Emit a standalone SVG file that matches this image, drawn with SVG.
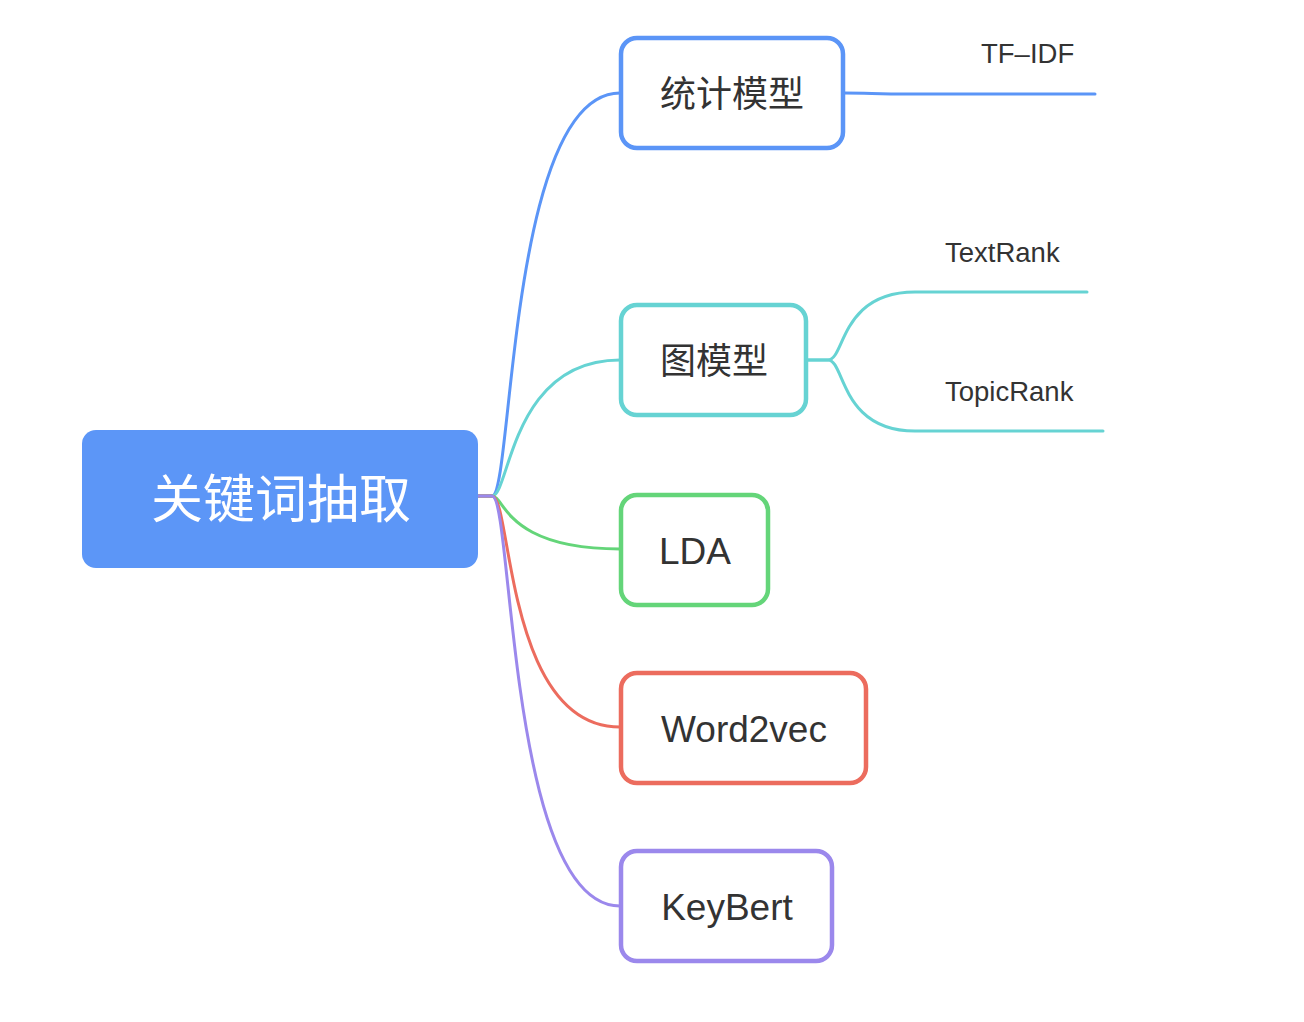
<svg xmlns="http://www.w3.org/2000/svg" width="1304" height="1022" viewBox="0 0 1304 1022">
<style>
.lbl{font-family:"Liberation Sans","Noto Sans CJK SC",sans-serif;fill:#333333;}
.cn{font-family:"Noto Sans CJK SC",sans-serif;}
.node{fill:#ffffff;stroke-width:4.5;}
.c{fill:none;stroke-width:3;stroke-linecap:round;}
.sm{font-size:27.5px;}
.md{font-size:37px;}
</style>
<rect width="1304" height="1022" fill="#ffffff"/>
<g id="connectors">
<path class="c" stroke="#5B95F7" d="M478,496 H492 C513,496 508,93 620,93"/>
<path class="c" stroke="#66D3D3" d="M478,496 H492 C510,496 510,360 620,360"/>
<path class="c" stroke="#64D579" d="M478,496 H492 C505,496 505,549 620,549"/>
<path class="c" stroke="#EC6C5E" d="M478,496 H492 C512,496 505,727 620,727"/>
<path class="c" stroke="#9B88EC" d="M478,496 H492 C513,496 508,906 620,906"/>
<path class="c" stroke="#5B95F7" d="M844,93 C870,93 875,94 910,94 H1095"/>
<path class="c" stroke="#66D3D3" d="M807,360 H828 C845,360 840,292 915,292 H1087"/>
<path class="c" stroke="#66D3D3" d="M807,360 H828 C845,360 840,431 915,431 H1103"/>
</g>
<g id="root">
<rect x="82" y="430" width="396" height="138" rx="14" fill="#5C96F7"/>
<text class="cn" x="281" y="518" font-size="52" fill="#ffffff" text-anchor="middle">关键词抽取</text>
</g>
<g id="n-tongji">
<rect class="node" x="621" y="38" width="222" height="110" rx="16" stroke="#5B95F7"/>
<text class="lbl cn" x="732" y="107" font-size="36" text-anchor="middle">统计模型</text>
</g>
<g id="n-tfidf">
<text class="lbl sm" x="981" y="63">TF–IDF</text>
</g>
<g id="n-tu">
<rect class="node" x="621" y="305" width="185" height="110" rx="16" stroke="#66D3D3"/>
<text class="lbl cn" x="714" y="374" font-size="36" text-anchor="middle">图模型</text>
</g>
<g id="n-textrank">
<text class="lbl sm" x="945" y="262">TextRank</text>
</g>
<g id="n-topicrank">
<text class="lbl sm" x="945" y="401">TopicRank</text>
</g>
<g id="n-lda">
<rect class="node" x="621" y="495" width="147" height="110" rx="16" stroke="#64D579"/>
<text class="lbl md" x="695" y="564" text-anchor="middle">LDA</text>
</g>
<g id="n-word2vec">
<rect class="node" x="621" y="673" width="245" height="110" rx="16" stroke="#EC6C5E"/>
<text class="lbl md" x="744" y="742" text-anchor="middle">Word2vec</text>
</g>
<g id="n-keybert">
<rect class="node" x="621" y="851" width="211" height="110" rx="16" stroke="#9B88EC"/>
<text class="lbl md" x="727" y="920" text-anchor="middle">KeyBert</text>
</g>
</svg>
